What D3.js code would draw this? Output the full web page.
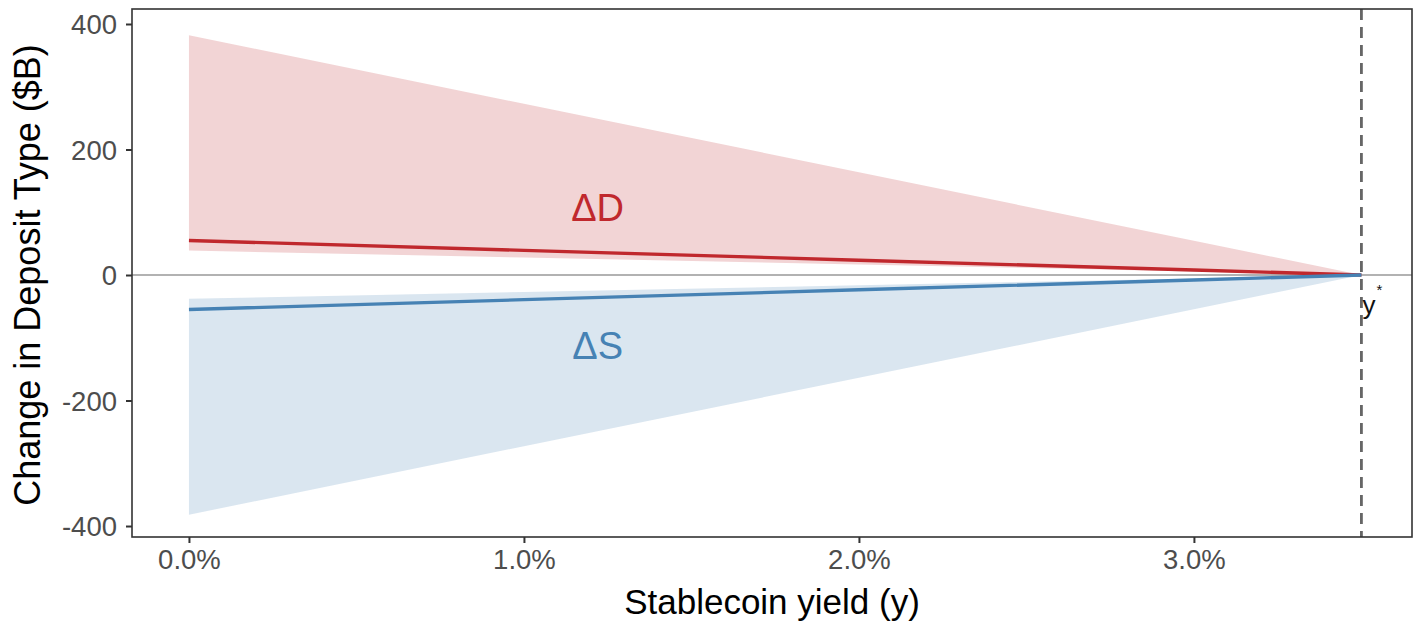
<!DOCTYPE html>
<html><head><meta charset="utf-8">
<script src="https://cdn.jsdelivr.net/npm/d3@7"></script>
<style>body{margin:0;background:#fff;}svg{display:block;font-family:"Liberation Sans",Arial,sans-serif;}</style>
</head><body>
<svg id="c" width="1421" height="624"></svg>
<script>
// Data (yield in %, values in $B)
const yields = [0.0, 1.0, 2.0, 3.0, 3.5];
const deltaD = [55, 39.3, 23.6, 7.9, 0];
const deltaDLow = [39, 27.9, 16.7, 5.6, 0];
const deltaDHigh = [382, 272.9, 163.7, 54.6, 0];
const deltaS = [-55, -39.3, -23.6, -7.9, 0];
const deltaSHigh = [-38, -27.1, -16.3, -5.4, 0];
const deltaSLow = [-382, -272.9, -163.7, -54.6, 0];
const yStar = 3.5;
const xTicks = [0, 1, 2, 3];
const yTicks = [400, 200, 0, -200, -400];

const svg = d3.select("#c");
const L = 132, R = 1412, T = 9, B = 537;
const x = d3.scaleLinear().domain([-0.17, 3.651]).range([L, R]);
const y = d3.scaleLinear().domain([-417.5, 423.9]).range([B, T]);

const red = "#c0282d", blue = "#4682b4";

const areaD = d3.area().x((d,i)=>x(yields[i])).y0((d,i)=>y(deltaDLow[i])).y1((d,i)=>y(deltaDHigh[i]));
const areaS = d3.area().x((d,i)=>x(yields[i])).y0((d,i)=>y(deltaSLow[i])).y1((d,i)=>y(deltaSHigh[i]));
svg.append("path").datum(yields).attr("d", areaD).attr("fill", red).attr("fill-opacity", 0.2);
svg.append("path").datum(yields).attr("d", areaS).attr("fill", blue).attr("fill-opacity", 0.2);

// zero line
svg.append("line").attr("x1", L).attr("x2", R).attr("y1", y(0)).attr("y2", y(0))
  .attr("stroke", "#999").attr("stroke-width", 1.3);

const lineGen = arr => d3.line().x((d,i)=>x(yields[i])).y((d,i)=>y(arr[i]));
svg.append("path").datum(yields).attr("d", lineGen(deltaD)).attr("fill","none").attr("stroke", red).attr("stroke-width", 3.4);
svg.append("path").datum(yields).attr("d", lineGen(deltaS)).attr("fill","none").attr("stroke", blue).attr("stroke-width", 3.4);

// dashed y* line
svg.append("line").attr("x1", x(yStar)).attr("x2", x(yStar)).attr("y1", T).attr("y2", B)
  .attr("stroke", "#666").attr("stroke-width", 2.8).attr("stroke-dasharray", "11,7");

// y* label
const ys = svg.append("text").attr("x", x(yStar)+1).attr("y", 314).attr("font-size", 26).attr("fill", "#111");
ys.append("tspan").text("y");
ys.append("tspan").attr("dy", -19).attr("dx", 1).attr("font-size", 15).text("*");

// labels
svg.append("text").attr("x", x(1.22)).attr("y", 221).attr("text-anchor","middle").attr("font-size", 38).attr("fill", red).text("ΔD");
svg.append("text").attr("x", x(1.22)).attr("y", 359).attr("text-anchor","middle").attr("font-size", 38).attr("fill", blue).text("ΔS");

// panel border
svg.append("rect").attr("x", L).attr("y", T).attr("width", R-L).attr("height", B-T)
  .attr("fill","none").attr("stroke", "#333").attr("stroke-width", 1.6);

// axes
const yAxis = svg.append("g").attr("transform", `translate(${L},0)`)
  .call(d3.axisLeft(y).tickValues(yTicks).tickSize(6).tickPadding(9).tickFormat(d=>String(d)));
const xAxis = svg.append("g").attr("transform", `translate(0,${B})`)
  .call(d3.axisBottom(x).tickValues(xTicks).tickSize(6).tickPadding(6).tickFormat(d=>d.toFixed(1)+"%"));
[yAxis, xAxis].forEach(g=>{
  g.select(".domain").remove();
  g.selectAll(".tick line").attr("stroke", "#333").attr("stroke-width", 2);
  g.selectAll(".tick text").attr("fill", "#4d4d4d").attr("font-size", 27.5).attr("font-family", "Liberation Sans, Arial, sans-serif");
});
yAxis.selectAll(".tick text").attr("dy", "0.36em");

svg.append("text").attr("transform", `translate(40,${(T+B)/2 + 2}) rotate(-90)`).attr("text-anchor","middle")
  .attr("font-size", 36).attr("fill","#000").text("Change in Deposit Type ($B)");
svg.append("text").attr("x", (L+R)/2).attr("y", 614).attr("text-anchor","middle")
  .attr("font-size", 35).attr("fill","#000").text("Stablecoin yield (y)");
</script>
</body></html>
